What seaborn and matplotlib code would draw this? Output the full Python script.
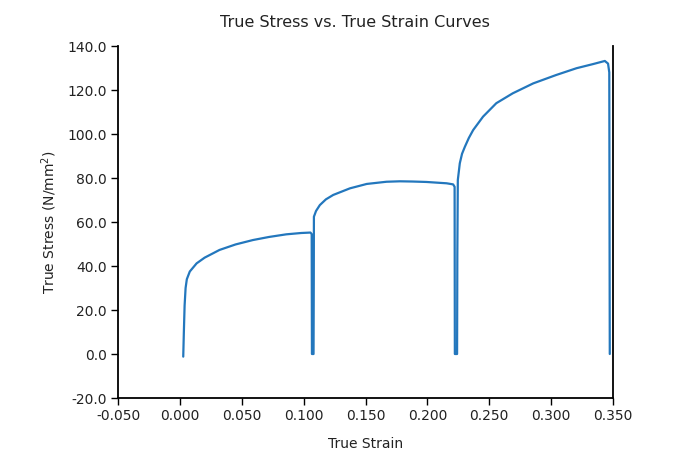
import matplotlib
matplotlib.use("Agg")
import pandas as pd
import seaborn as sns
import matplotlib.pyplot as plt

# values (three loading segments with unloading drops)
strain = [0.0027, 0.0032, 0.0038, 0.0046, 0.0056, 0.0080, 0.0135, 0.0200, 0.0320, 0.0450,
          0.0590, 0.0720, 0.0860, 0.0980, 0.1055, 0.1065, 0.1067,
          0.1080, 0.1082, 0.1083, 0.1100, 0.1131, 0.1180, 0.1239, 0.1374, 0.1510, 0.1670,
          0.1778, 0.1880, 0.1993, 0.2100, 0.2155, 0.2208, 0.2220, 0.2222,
          0.2240, 0.2242, 0.2246, 0.2262, 0.2280, 0.2303, 0.2335, 0.2370, 0.2450, 0.2557,
          0.2690, 0.2855, 0.3040, 0.3205, 0.3340, 0.3434, 0.3460, 0.3470, 0.3474]
stress = [-1.2, 10.0, 22.0, 30.0, 34.0, 37.5, 41.2, 43.8, 47.3, 49.8,
          51.8, 53.2, 54.4, 55.0, 55.2, 54.5, 0.0,
          0.0, 35.0, 62.4, 65.0, 67.7, 70.3, 72.3, 75.3, 77.3, 78.3,
          78.5, 78.4, 78.2, 77.8, 77.6, 77.1, 76.0, 0.0,
          0.0, 45.0, 79.1, 86.7, 91.0, 94.2, 98.2, 101.8, 107.9, 114.0,
          118.5, 123.0, 126.8, 129.9, 131.8, 133.2, 132.0, 128.0, 0.0]

xticks = [-0.05, 0.0, 0.05, 0.10, 0.15, 0.20, 0.25, 0.30, 0.35]
yticks = [-20, 0, 20, 40, 60, 80, 100, 120, 140]

df = pd.DataFrame({"True Strain": strain, "True Stress": stress})

sns.set_style("white")
plt.rcParams["font.family"] = ["DejaVu Sans"]

fig = plt.figure(figsize=(6.76, 4.51), dpi=100)
ax = fig.add_axes([0.1746, 0.1175, 0.7322, 0.7805])

sns.lineplot(data=df, x="True Strain", y="True Stress", sort=False, estimator=None,
             color="#2377bd", linewidth=1.6, ax=ax)

ax.set_xlim(-0.05, 0.35)
ax.set_ylim(-20, 140)
ax.set_xticks(xticks)
ax.set_yticks(yticks)
ax.set_xticklabels([f"{t:.3f}" for t in xticks])
ax.set_yticklabels([f"{t:.1f}" for t in yticks])

ax.spines["top"].set_visible(False)
for s in ["left", "bottom", "right"]:
    ax.spines[s].set_color("black")
    ax.spines[s].set_linewidth(1.3)

ax.tick_params(axis="both", which="major", direction="out", length=5, width=1,
               color="black", labelsize=10, labelcolor="#222222", pad=3,
               left=True, bottom=True, right=False, top=False)

ax.set_title("True Stress vs. True Strain Curves", fontsize=11.5, color="#222222", pad=14, x=0.478)
ax.set_xlabel("True Strain", fontsize=10, color="#222222", labelpad=10)
ax.set_ylabel("True Stress (N/mm$^2$)", fontsize=10, color="#222222", labelpad=6)

fig.savefig("out.png", dpi=100)
